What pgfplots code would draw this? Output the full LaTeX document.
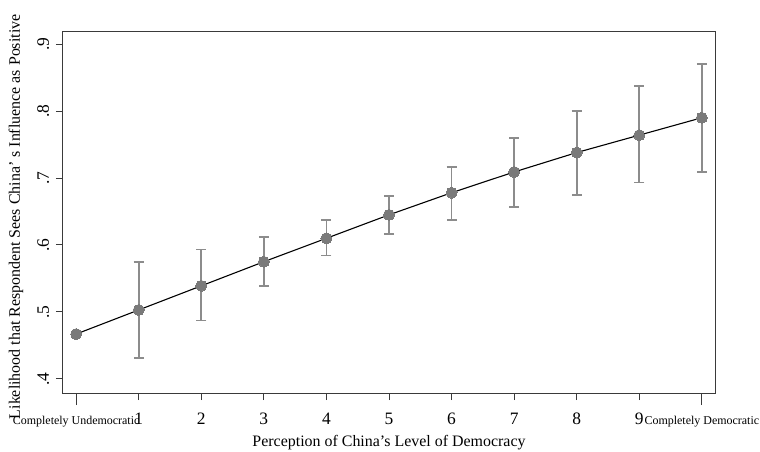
\documentclass[border=0pt]{standalone}
\usepackage{pgfplots}
\pgfplotsset{compat=1.18}
\usepackage{pgfplotstable}
\usepackage{fontspec}
\setmainfont{Liberation Serif}
\definecolor{markgray}{HTML}{7A7A7A}
\definecolor{errgray}{HTML}{8C8C8C}
\definecolor{axisgray}{HTML}{3A3A3A}
\pgfplotstableread{
x y ep em
1 0.503 0.072 0.072
2 0.539 0.054 0.052
3 0.575 0.037 0.036
4 0.610 0.027 0.026
5 0.645 0.028 0.029
6 0.678 0.038 0.041
7 0.709 0.051 0.052
8 0.738 0.062 0.063
9 0.764 0.073 0.071
10 0.790 0.080 0.081
}\errtab
\pgfplotstableread{
x y
0 0.467
1 0.503
2 0.539
3 0.575
4 0.610
5 0.645
6 0.678
7 0.709
8 0.738
9 0.764
10 0.790
}\ptab
\begin{document}
\begin{tikzpicture}
\begin{axis}[
  scale only axis,
  width=652bp, height=361bp,
  xmin=-0.21, xmax=10.21,
  ymin=0.379, ymax=0.918,
  axis line style={draw=axisgray, line width=1bp},
  tick style={draw=axisgray, line width=1bp},
  tick align=outside,
  xtick={1,2,3,4,5,6,7,8,9},
  xticklabels={1,2,3,4,5,6,7,8,9},
  major tick length=7bp,
  xtick pos=bottom, ytick pos=left,
  extra x ticks={0,10},
  extra x tick labels={Completely Undemocratic, Completely Democratic},
  extra x tick style={major tick length=12bp, xticklabel style={font=\fontsize{12}{14}\selectfont, yshift=5bp}},
  xticklabel style={font=\fontsize{17.5}{20}\selectfont, anchor=base, yshift=-24bp},
  ytick={0.4,0.5,0.6,0.7,0.8,0.9},
  yticklabels={.4,.5,.6,.7,.8,.9},
  yticklabel style={font=\fontsize{17.5}{20}\selectfont, xshift=-7bp, rotate=90, anchor=base},
  xlabel={Perception of China{\char"27}s Level of Democracy},
  ylabel={Likelihood that Respondent Sees China’ s Influence as Positive},
  label style={font=\fontsize{16}{18}\selectfont},
  xlabel style={at={(axis description cs:0.5,0)}, anchor=base, yshift=-53bp},
  ylabel style={at={(axis description cs:-0.066,0.488)}, anchor=base},
  clip=false,
]
\addplot[forget plot, only marks, mark=none,
  error bars/.cd, y dir=both, y explicit,
  error bar style={draw=errgray, line width=1.6bp},
  error mark options={draw=errgray, line width=1.6bp, mark size=5bp, rotate=90}]
  table[x=x, y=y, y error plus=ep, y error minus=em] {\errtab};
\addplot[black, line width=1.1bp, mark=*, mark size=5.5bp,
  mark options={fill=markgray, draw=markgray, line width=0bp}]
  table[x=x, y=y] {\ptab};
\end{axis}
\pgfresetboundingbox
\path (current axis.south west) ++(-63bp,-59bp) rectangle ++(760bp,452bp);
\end{tikzpicture}
\end{document}
